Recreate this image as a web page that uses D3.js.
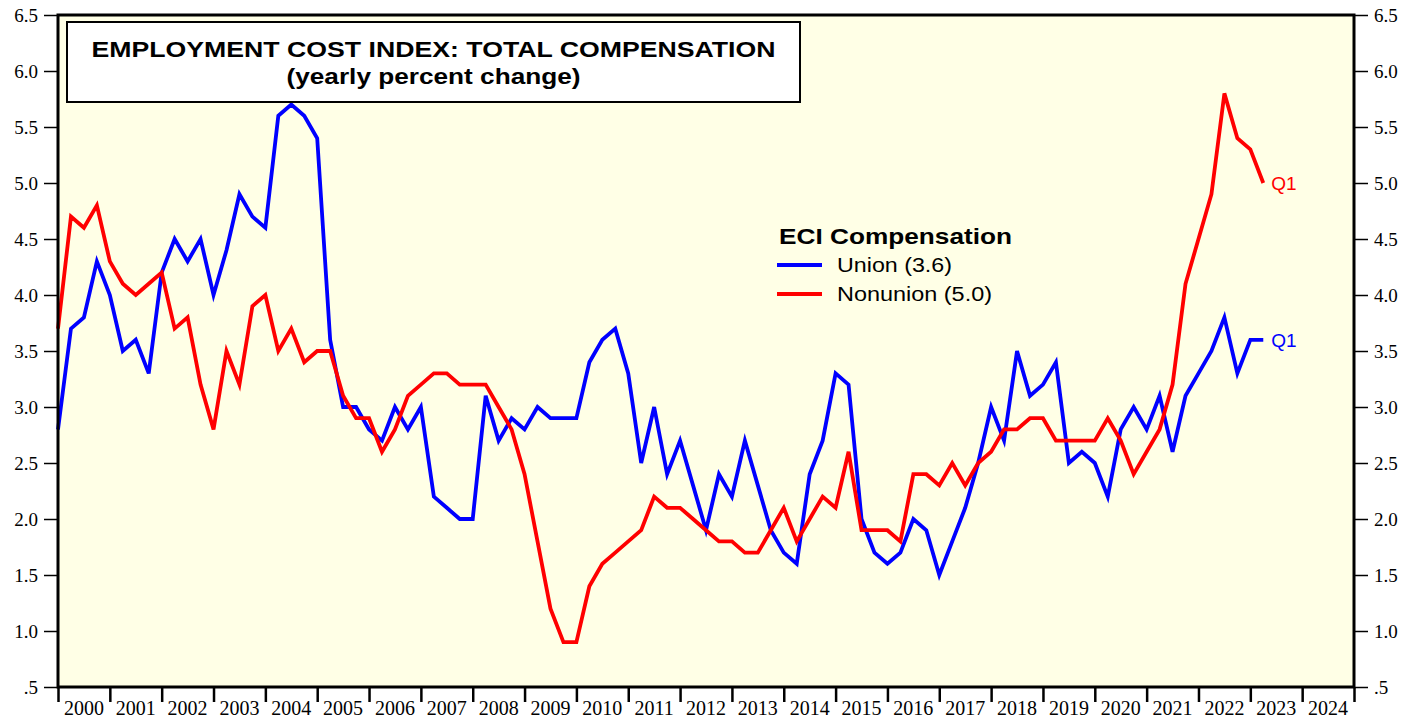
<!DOCTYPE html>
<html>
<head>
<meta charset="utf-8">
<script src="https://cdn.jsdelivr.net/npm/d3@7"></script>
<style>
  body { margin: 0; background: #fff; }
  svg { display: block; }
</style>
</head>
<body>
<svg id="chart" width="1419" height="721"></svg>
<script>
// quarterly yearly % change, first point is 1999 Q4, last is 2023 Q1
var firstYear = 1999, firstQuarter = 4;
var union = [2.8, 3.7, 3.8, 4.3, 4.0, 3.5, 3.6, 3.3, 4.2, 4.5, 4.3, 4.5, 4.0, 4.4, 4.9, 4.7, 4.6, 5.6, 5.7, 5.6,
  5.4, 3.6, 3.0, 3.0, 2.8, 2.7, 3.0, 2.8, 3.0, 2.2, 2.1, 2.0, 2.0, 3.1, 2.7, 2.9, 2.8, 3.0, 2.9, 2.9,
  2.9, 3.4, 3.6, 3.7, 3.3, 2.5, 3.0, 2.4, 2.7, 2.3, 1.9, 2.4, 2.2, 2.7, 2.3, 1.9, 1.7, 1.6, 2.4, 2.7,
  3.3, 3.2, 2.0, 1.7, 1.6, 1.7, 2.0, 1.9, 1.5, 1.8, 2.1, 2.5, 3.0, 2.7, 3.5, 3.1, 3.2, 3.4, 2.5, 2.6,
  2.5, 2.2, 2.8, 3.0, 2.8, 3.1, 2.6, 3.1, 3.3, 3.5, 3.8, 3.3, 3.6, 3.6];
var nonunion = [3.7, 4.7, 4.6, 4.8, 4.3, 4.1, 4.0, 4.1, 4.2, 3.7, 3.8, 3.2, 2.8, 3.5, 3.2, 3.9, 4.0, 3.5, 3.7, 3.4,
  3.5, 3.5, 3.1, 2.9, 2.9, 2.6, 2.8, 3.1, 3.2, 3.3, 3.3, 3.2, 3.2, 3.2, 3.0, 2.8, 2.4, 1.8, 1.2, 0.9,
  0.9, 1.4, 1.6, 1.7, 1.8, 1.9, 2.2, 2.1, 2.1, 2.0, 1.9, 1.8, 1.8, 1.7, 1.7, 1.9, 2.1, 1.8, 2.0, 2.2,
  2.1, 2.6, 1.9, 1.9, 1.9, 1.8, 2.4, 2.4, 2.3, 2.5, 2.3, 2.5, 2.6, 2.8, 2.8, 2.9, 2.9, 2.7, 2.7, 2.7,
  2.7, 2.9, 2.7, 2.4, 2.6, 2.8, 3.2, 4.1, 4.5, 4.9, 5.8, 5.4, 5.3, 5.0];
var years = d3.range(2000, 2025);
var yTicks = [0.5, 1.0, 1.5, 2.0, 2.5, 3.0, 3.5, 4.0, 4.5, 5.0, 5.5, 6.0, 6.5];
var titleLines = ["EMPLOYMENT COST INDEX: TOTAL COMPENSATION", "(yearly percent change)"];
var legendTitle = "ECI Compensation";
var seriesNames = ["Union (3.6)", "Nonunion (5.0)"];
var seriesColors = ["#0000ff", "#ff0000"];

var svg = d3.select("#chart");
var plotL = 58, plotR = 1354, plotT = 15, plotB = 687;

var x = d3.scaleLinear().domain([2000, 2025]).range([plotL, plotR]);
var y = d3.scaleLinear().domain([0.5, 6.5]).range([plotB, plotT]);

// quarter index -> time at end of that quarter
var qt = function (i) { return firstYear + (firstQuarter + i) / 4; };

svg.append("rect")
  .attr("x", plotL).attr("y", plotT)
  .attr("width", plotR - plotL).attr("height", plotB - plotT)
  .attr("fill", "#ffffe6");

var fmt = function (d) { return d === 0.5 ? ".5" : d.toFixed(1); };

var yl = svg.append("g")
  .attr("transform", "translate(" + plotL + ",0)")
  .call(d3.axisLeft(y).tickValues(yTicks).tickSize(14).tickPadding(6).tickFormat(fmt));
var yr = svg.append("g")
  .attr("transform", "translate(" + plotR + ",0)")
  .call(d3.axisRight(y).tickValues(yTicks).tickSize(14).tickPadding(6).tickFormat(fmt));
[yl, yr].forEach(function (g) {
  g.select(".domain").remove();
  g.selectAll("line").attr("stroke", "#000").attr("stroke-width", 1.5);
  g.selectAll("text")
    .style("font-family", "'Liberation Serif', 'Times New Roman', serif")
    .style("font-size", "19px")
    .attr("fill", "#000");
});

var xa = svg.append("g")
  .attr("transform", "translate(0," + plotB + ")")
  .call(d3.axisBottom(x).tickValues(d3.range(2000, 2026)).tickSize(15).tickFormat(""));
xa.select(".domain").remove();
xa.selectAll("line").attr("stroke", "#000").attr("stroke-width", 2.5);

svg.selectAll(".year")
  .data(years)
  .enter()
  .append("text")
    .attr("class", "year")
    .attr("x", function (d) { return x(d + 0.5); })
    .attr("y", 715)
    .attr("text-anchor", "middle")
    .style("font-family", "'Liberation Serif', 'Times New Roman', serif")
    .style("font-size", "20px")
    .text(function (d) { return d; });

var line = d3.line()
  .x(function (d, i) { return x(qt(i)); })
  .y(function (d) { return y(d); });

[union, nonunion].forEach(function (s, k) {
  svg.append("path")
    .datum(s)
    .attr("d", line)
    .attr("fill", "none")
    .attr("stroke", seriesColors[k])
    .attr("stroke-width", 3.8)
    .attr("stroke-linejoin", "miter");
});

// Q1 end labels
[union, nonunion].forEach(function (s, k) {
  var last = s.length - 1;
  svg.append("text")
    .attr("x", x(qt(last)) + 8)
    .attr("y", y(s[last]) + 7)
    .attr("fill", seriesColors[k])
    .style("font-family", "'Liberation Sans', Arial, sans-serif")
    .style("font-size", "19px")
    .text("Q1");
});

svg.append("rect")
  .attr("x", plotL).attr("y", plotT)
  .attr("width", plotR - plotL).attr("height", plotB - plotT)
  .attr("fill", "none").attr("stroke", "#000").attr("stroke-width", 3);

// title box (the original type is wider than Arial, so stretch it)
var titleWidths = [684, 294];
svg.append("rect")
  .attr("x", 67).attr("y", 22).attr("width", 733).attr("height", 80)
  .attr("fill", "#fff").attr("stroke", "#000").attr("stroke-width", 2);
svg.selectAll(".title")
  .data(titleLines)
  .enter()
  .append("text")
    .attr("x", 433.5)
    .attr("y", function (d, i) { return 57 + i * 27; })
    .attr("text-anchor", "middle")
    .attr("textLength", function (d, i) { return titleWidths[i]; })
    .attr("lengthAdjust", "spacingAndGlyphs")
    .style("font-family", "'Liberation Sans', Arial, sans-serif")
    .style("font-size", "22px")
    .style("font-weight", "bold")
    .text(function (d) { return d; });

// legend
var legendWidths = [115, 155];
svg.append("text")
  .attr("x", 779).attr("y", 244)
  .attr("textLength", 233)
  .attr("lengthAdjust", "spacingAndGlyphs")
  .style("font-family", "'Liberation Sans', Arial, sans-serif")
  .style("font-size", "22px")
  .style("font-weight", "bold")
  .text(legendTitle);
seriesNames.forEach(function (n, k) {
  var ly = 265 + k * 29;
  svg.append("line")
    .attr("x1", 777).attr("x2", 822).attr("y1", ly).attr("y2", ly)
    .attr("stroke", seriesColors[k]).attr("stroke-width", 3.8);
  svg.append("text")
    .attr("x", 837).attr("y", ly + 7)
    .attr("textLength", legendWidths[k])
    .attr("lengthAdjust", "spacingAndGlyphs")
    .style("font-family", "'Liberation Sans', Arial, sans-serif")
    .style("font-size", "20px")
    .text(n);
});
</script>
</body>
</html>
